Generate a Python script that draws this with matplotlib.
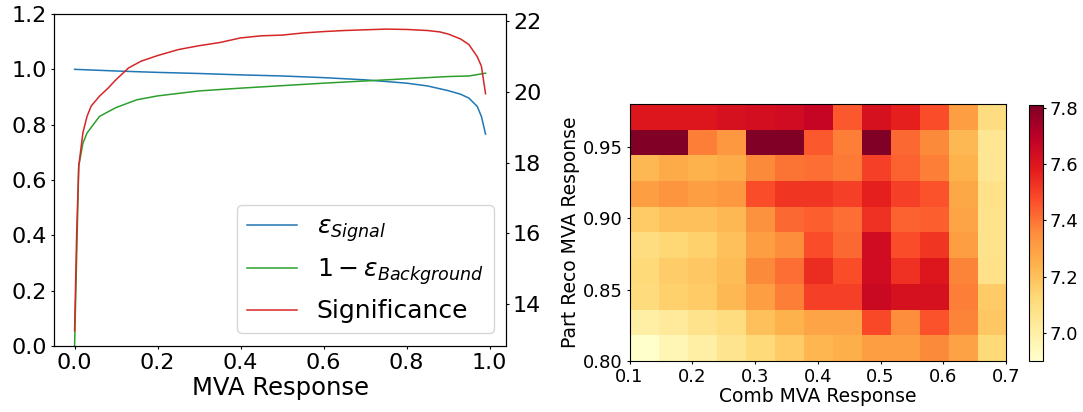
import numpy as np
import matplotlib
matplotlib.use('Agg')
import matplotlib.pyplot as plt

# --- efficiency curves vs MVA cut ---
x_sig = [0.0, 0.1, 0.2, 0.3, 0.4, 0.5, 0.6, 0.7, 0.8, 0.85, 0.9, 0.93, 0.95, 0.97, 0.98, 0.99]
eff_sig = [1.0, 0.994, 0.989, 0.985, 0.980, 0.976, 0.970, 0.962, 0.950, 0.940, 0.923, 0.910, 0.896, 0.866, 0.830, 0.766]

x_bkg = [0.0, 0.01, 0.02, 0.03, 0.05, 0.06, 0.1, 0.15, 0.2, 0.3, 0.4, 0.5, 0.6, 0.7, 0.8, 0.9, 0.95, 0.99]
rej_bkg = [0.0, 0.65, 0.733, 0.77, 0.81, 0.83, 0.862, 0.89, 0.904, 0.922, 0.932, 0.941, 0.950, 0.958, 0.966, 0.974, 0.976, 0.986]

x_sgn = [0.0, 0.005, 0.01, 0.02, 0.03, 0.04, 0.06, 0.08, 0.1, 0.13, 0.16, 0.2, 0.25, 0.3, 0.35, 0.4,
         0.45, 0.5, 0.55, 0.6, 0.65, 0.7, 0.75, 0.8, 0.85, 0.88, 0.9, 0.93, 0.95, 0.97, 0.98, 0.99]
signif = [13.23, 16.0, 17.9, 18.84, 19.31, 19.6, 19.88, 20.1, 20.35, 20.68, 20.87, 21.03, 21.2, 21.31, 21.4, 21.53,
          21.59, 21.61, 21.67, 21.71, 21.74, 21.76, 21.78, 21.77, 21.74, 21.70, 21.64, 21.5, 21.34, 21.0, 20.73, 19.95]

# --- 2D scan of significance (rows top -> bottom) ---
comb_edges = (0.1, 0.7)
part_edges = (0.8, 0.98)
sig_grid = np.array([
    [7.60, 7.60, 7.60, 7.62, 7.63, 7.64, 7.67, 7.45, 7.62, 7.57, 7.47, 7.30, 7.10],
    [7.81, 7.81, 7.38, 7.32, 7.81, 7.81, 7.45, 7.38, 7.81, 7.42, 7.36, 7.22, 7.05],
    [7.22, 7.26, 7.24, 7.26, 7.36, 7.40, 7.41, 7.39, 7.50, 7.43, 7.38, 7.24, 7.05],
    [7.30, 7.33, 7.30, 7.32, 7.47, 7.52, 7.52, 7.50, 7.57, 7.50, 7.46, 7.27, 7.08],
    [7.17, 7.20, 7.20, 7.22, 7.34, 7.42, 7.44, 7.41, 7.53, 7.43, 7.44, 7.28, 7.07],
    [7.10, 7.13, 7.15, 7.20, 7.30, 7.35, 7.47, 7.42, 7.64, 7.47, 7.52, 7.30, 7.07],
    [7.12, 7.16, 7.18, 7.21, 7.36, 7.41, 7.54, 7.47, 7.64, 7.53, 7.60, 7.37, 7.08],
    [7.11, 7.15, 7.17, 7.22, 7.30, 7.38, 7.50, 7.50, 7.66, 7.62, 7.62, 7.38, 7.17],
    [7.00, 7.03, 7.07, 7.10, 7.20, 7.24, 7.28, 7.28, 7.48, 7.35, 7.46, 7.37, 7.18],
    [6.90, 6.96, 7.00, 7.06, 7.12, 7.17, 7.23, 7.25, 7.30, 7.30, 7.36, 7.29, 7.12],
])

fig = plt.figure(figsize=(10.83, 4.12), dpi=100)

# left: efficiencies + significance
ax = fig.add_axes([0.0499, 0.1602, 0.4174, 0.8058])
ax2 = ax.twinx()
l1, = ax.plot(x_sig, eff_sig, color='#1f77b4', lw=1.1, label=r'$\epsilon_{Signal}$')
l2, = ax.plot(x_bkg, rej_bkg, color='#2ca02c', lw=1.1, label=r'$1-\epsilon_{Background}$')
l3, = ax2.plot(x_sgn, signif, color='#d62728', lw=1.1, label='Significance')
ax.set_ylim(0, 1.2)
ax.set_xticks([0.0, 0.2, 0.4, 0.6, 0.8, 1.0])
for a in (ax, ax2):
    a.tick_params(labelsize=16, length=2.5, pad=2.5)
ax.set_xlabel('MVA Response', fontsize=17.5, labelpad=2)
ax.legend(handles=[l1, l2, l3], loc='lower right', fontsize=18)

# right: heatmap
axh = fig.add_axes([0.5813, 0.1238, 0.3476, 0.6226])
im = axh.imshow(sig_grid, cmap='YlOrRd', aspect='auto', origin='upper',
                extent=[comb_edges[0], comb_edges[1], part_edges[0], part_edges[1]],
                vmin=6.9, vmax=7.81, interpolation='nearest')
axh.set_xticks([0.1, 0.2, 0.3, 0.4, 0.5, 0.6, 0.7])
axh.set_yticks([0.80, 0.85, 0.90, 0.95])
axh.tick_params(labelsize=13, length=2.5, pad=2.5)
axh.set_xlabel('Comb MVA Response', fontsize=13.5, labelpad=1)
axh.set_ylabel('Part Reco MVA Response', fontsize=13.5, labelpad=2)

cax = fig.add_axes([0.9501, 0.1238, 0.0129, 0.6214])
cb = fig.colorbar(im, cax=cax)
cb.set_ticks([7.0, 7.2, 7.4, 7.6, 7.8])
cb.ax.tick_params(labelsize=13, length=2.5, pad=2.5)

fig.savefig('out.png', dpi=100)
